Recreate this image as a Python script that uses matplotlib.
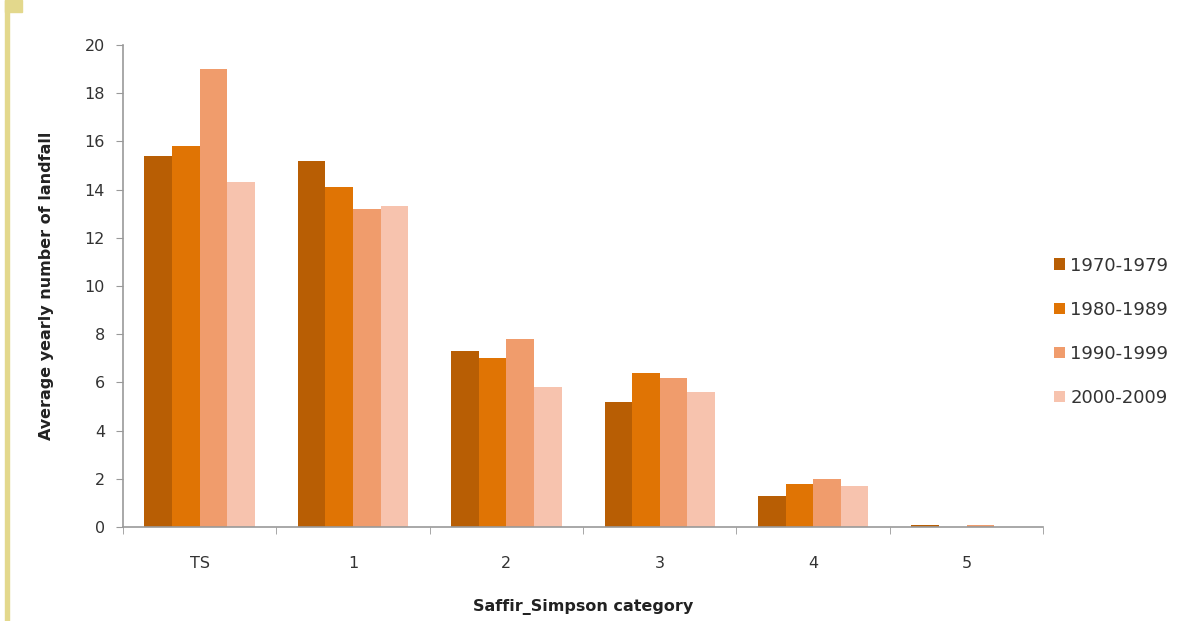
import numpy as np
import matplotlib.pyplot as plt
from matplotlib.patches import Rectangle

# data
categories = ["TS", "1", "2", "3", "4", "5"]
periods = ["1970-1979", "1980-1989", "1990-1999", "2000-2009"]
v_1970 = [15.4, 15.2, 7.3, 5.2, 1.3, 0.1]
v_1980 = [15.8, 14.1, 7.0, 6.4, 1.8, 0.0]
v_1990 = [19.0, 13.2, 7.8, 6.2, 2.0, 0.1]
v_2000 = [14.3, 13.3, 5.8, 5.6, 1.7, 0.0]
colors = ["#B85E04", "#E07404", "#F09C6C", "#F7C3AE"]

plt.rcParams['font.family'] = ['DejaVu Sans']

fig = plt.figure(figsize=(12.03, 6.21), dpi=100)
ax = fig.add_axes([0.1022, 0.1514, 0.765, 0.7761])

x = np.arange(len(categories))
w = 0.18
for i, (vals, lab, col) in enumerate(zip([v_1970, v_1980, v_1990, v_2000], periods, colors)):
    ax.bar(x + (i - 1.5) * w, vals, width=w, color=col, label=lab)

ax.set_xlim(-0.5, len(categories) - 0.5)
ax.set_ylim(0, 20)
ax.set_yticks(range(0, 21, 2))
ax.set_xticks(x)
ax.set_xticklabels(categories)
ax.set_xticks(np.arange(-0.5, len(categories)), minor=True)
ax.tick_params(axis='x', which='major', length=0, pad=21, labelsize=11.5, colors='#333333')
ax.tick_params(axis='x', which='minor', length=5, color='#999999')
ax.tick_params(axis='y', length=5, color='#999999', labelsize=11.5, labelcolor='#333333', pad=8)
for s in ['top', 'right']:
    ax.spines[s].set_visible(False)
for s in ['left', 'bottom']:
    ax.spines[s].set_color('#999999')
    ax.spines[s].set_linewidth(1.2)

ax.set_xlabel("Saffir_Simpson category", fontsize=11.5, fontweight='bold', labelpad=20,
              color='#222222')
ax.set_ylabel("Average yearly number of landfall", fontsize=11.5, fontweight='bold',
              labelpad=22, color='#222222')

ax.legend(loc='center left', bbox_to_anchor=(1.0, 0.405), frameon=False, fontsize=13,
          handlelength=0.6, handleheight=0.6, handletextpad=0.3, labelspacing=1.45,
          labelcolor='#333333', borderaxespad=0.2)

# yellow page border on the left
fig.patches.append(Rectangle((5 / 1203, 0), 4 / 1203, 1, transform=fig.transFigure,
                             color='#E3D88C', zorder=0))
fig.patches.append(Rectangle((5 / 1203, 1 - 12 / 621), 17 / 1203, 12 / 621,
                             transform=fig.transFigure, color='#E3D88C', zorder=0))

fig.savefig("out.png", dpi=100)
